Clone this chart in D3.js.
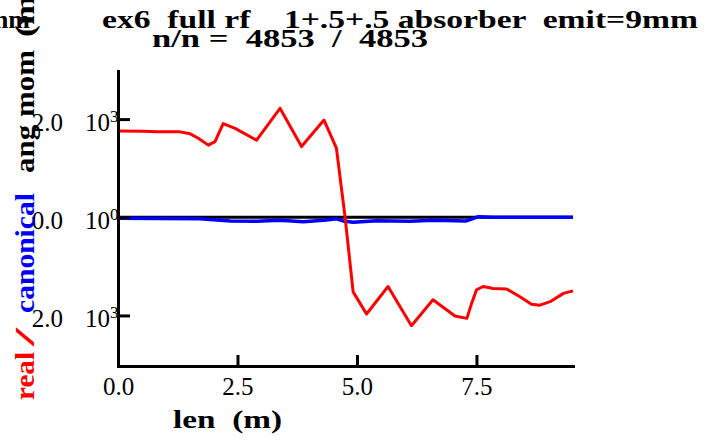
<!DOCTYPE html>
<html>
<head>
<meta charset="utf-8">
<script src="https://cdn.jsdelivr.net/npm/d3@7"></script>
<style>
  html, body { margin: 0; padding: 0; background: #fff; }
  svg { display: block; }
  text { font-family: "Liberation Serif", "Times New Roman", serif; white-space: pre; }
  .bold { font-weight: bold; }
</style>
</head>
<body>
<svg id="chart" width="706" height="441"></svg>
<script>
// Angular momentum along the channel (units of 1e-3)
const lenReal = [0.00, 0.53, 0.81, 1.30, 1.51, 1.68, 1.89, 2.03, 2.20, 2.45, 2.90, 3.39, 3.84, 4.31, 4.57, 4.75, 4.92, 5.20, 5.65, 6.14, 6.59, 7.05, 7.30, 7.40, 7.50, 7.64, 7.85, 8.13, 8.41, 8.65, 8.83, 9.04, 9.32, 9.52];
const angReal = [1.76, 1.75, 1.74, 1.74, 1.70, 1.61, 1.47, 1.54, 1.91, 1.81, 1.57, 2.22, 1.44, 1.98, 1.41, 0.01, -1.52, -1.97, -1.41, -2.21, -1.68, -2.01, -2.06, -1.75, -1.48, -1.41, -1.45, -1.46, -1.62, -1.77, -1.79, -1.72, -1.55, -1.50];

const lenCanon = [0.00, 1.72, 2.35, 2.90, 3.39, 3.88, 4.36, 4.57, 4.71, 4.92, 5.41, 6.11, 6.59, 7.29, 7.54, 7.85, 9.52];
const angCanon = [-0.02, -0.03, -0.075, -0.08, -0.06, -0.09, -0.055, -0.03, -0.075, -0.10, -0.07, -0.08, -0.06, -0.075, 0.012, 0.0, 0.0];

const lenZero = [0.00, 9.52];
const angZero = [0, 0];

const xTicks = [0, 2.5, 5.0, 7.5];
const xTickLabels = ["0.0", "2.5", "5.0", "7.5"];
const yTicks = [2, 0, -2];
const yTickMantissa = ["2.0", "0.0", "2.0"];
const yTickExp = ["3", "0", "3"];

const titleLine1 = "ex6  full rf    1+.5+.5 absorber  emit=9mm";
const titleLine2 = "n/n =  4853  /  4853";

const svg = d3.select("#chart");

const x = d3.scaleLinear().domain([0, 9.52]).range([118, 573]);
const y = d3.scaleLinear().domain([-3.03, 2.98]).range([366, 71]);

const line = d3.line().x(d => x(d[0])).y(d => y(d[1]));

// series
svg.append("path")
  .attr("d", line(d3.zip(lenZero, angZero)))
  .attr("fill", "none").attr("stroke", "#000").attr("stroke-width", 3);
svg.append("path")
  .attr("d", line(d3.zip(lenCanon, angCanon)))
  .attr("fill", "none").attr("stroke", "#0000ff").attr("stroke-width", 3.5)
  .attr("stroke-linejoin", "round");
svg.append("path")
  .attr("d", line(d3.zip(lenReal, angReal)))
  .attr("fill", "none").attr("stroke", "#ff0000").attr("stroke-width", 3)
  .attr("stroke-linejoin", "round");

// x axis
const xAxis = d3.axisBottom(x)
  .tickValues(xTicks)
  .tickFormat((d, i) => xTickLabels[i])
  .tickSizeInner(-11)
  .tickSizeOuter(0)
  .tickPadding(11);
const gx = svg.append("g").attr("transform", "translate(0,366)").call(xAxis);
gx.select(".domain").attr("stroke-width", 3).attr("stroke-linecap", "square");
gx.selectAll(".tick line").attr("stroke-width", 3);
gx.selectAll(".tick text")
  .attr("font-size", 25).attr("fill", "#000");

// y axis
const yAxis = d3.axisLeft(y)
  .tickValues(yTicks)
  .tickFormat("")
  .tickSizeInner(-12)
  .tickSizeOuter(0);
const gy = svg.append("g").attr("transform", "translate(118,0)").call(yAxis);
gy.select(".domain").attr("stroke-width", 3).attr("stroke-linecap", "square");
gy.selectAll(".tick line").attr("stroke-width", 3);

// y tick labels: mantissa and power of ten
const yl = svg.append("g").attr("font-size", 25);
yTicks.forEach((t, i) => {
  yl.append("text").attr("x", 63).attr("y", y(t) + 11.5)
    .attr("text-anchor", "end").text(yTickMantissa[i]);
  yl.append("text").attr("x", 110).attr("y", y(t) + 11.5)
    .attr("text-anchor", "end").text("10");
  yl.append("text").attr("x", 110).attr("y", y(t) + 2.5)
    .attr("font-size", 17).text(yTickExp[i]);
});

// x axis title
svg.append("text").attr("class", "bold")
  .attr("x", 173).attr("y", 428).attr("font-size", 25)
  .attr("textLength", 109).attr("lengthAdjust", "spacingAndGlyphs")
  .text("len  (m)");

// rotated y axis title pieces
const yTitle = [
  { s: "real", c: "#ff0000", y0: 400, len: 48 },
  { s: "/", c: "#ff0000", y0: 346, len: 18 },
  { s: "canonical", c: "#0000ff", y0: 313, len: 120 },
  { s: "ang mom", c: "#000", y0: 173, len: 123 },
  { s: "(m", c: "#000", y0: 37, len: 42 }
];
yTitle.forEach(p => {
  svg.append("text").attr("class", "bold")
    .attr("transform", `translate(34,${p.y0}) rotate(-90)`)
    .attr("font-size", 27).attr("fill", p.c)
    .attr("textLength", p.len).attr("lengthAdjust", "spacingAndGlyphs")
    .text(p.s);
});

// header
svg.append("text").attr("class", "bold")
  .attr("x", 30).attr("y", 28).attr("font-size", 26)
  .attr("text-anchor", "end").text("mm");
svg.append("text").attr("class", "bold")
  .attr("x", 102).attr("y", 28).attr("font-size", 26)
  .attr("textLength", 596).attr("lengthAdjust", "spacingAndGlyphs")
  .text(titleLine1);
svg.append("text").attr("class", "bold")
  .attr("x", 152).attr("y", 47).attr("font-size", 26)
  .attr("textLength", 276).attr("lengthAdjust", "spacingAndGlyphs")
  .text(titleLine2);
</script>
</body>
</html>
